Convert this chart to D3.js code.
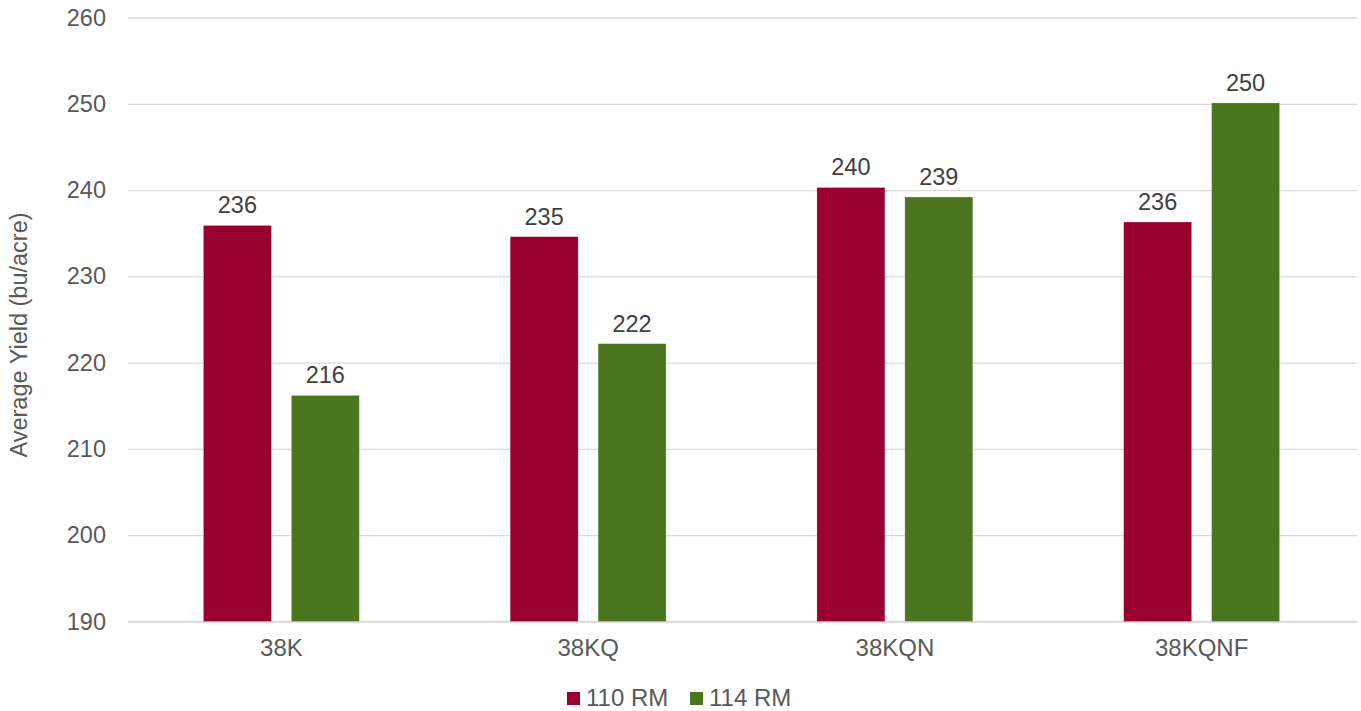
<!DOCTYPE html>
<html>
<head>
<meta charset="utf-8">
<script src="https://cdn.jsdelivr.net/npm/d3@7"></script>
<style>
  body { margin: 0; background: #fff; }
  text { font-family: "Liberation Sans", Arial, Helvetica, sans-serif; }
</style>
</head>
<body>
<div class="chart"></div>
<script>
const categories = ["38K", "38KQ", "38KQN", "38KQNF"];
const seriesNames = ["110 RM", "114 RM"];
const rm110 = [235.9, 234.6, 240.3, 236.3];
const rm114 = [216.2, 222.2, 239.2, 250.1];
const yTicks = [190, 200, 210, 220, 230, 240, 250, 260];
const colors = ["#99002f", "#4c7520"];

const w = 1361;
const h = 711;
const padL = 128, padR = 1355, padT = 17.5, padB = 621.5;

const rows = categories.map((c, i) => ({cat: c, vals: [rm110[i], rm114[i]]}));

const svg = d3.select(".chart")
    .append("svg")
    .attr("width", w)
    .attr("height", h);

const x0 = d3.scaleBand()
    .domain(categories)
    .range([padL, padR]);

const x1 = d3.scaleBand()
    .domain(seriesNames)
    .range([0, x0.bandwidth()])
    .paddingInner(0.227)
    .paddingOuter(0.858);

const y = d3.scaleLinear()
    .domain([190, 260])
    .range([padB, padT]);

// gridlines + y labels
const yAxis = d3.axisLeft(y)
    .tickValues(yTicks)
    .tickSize(-(1357 - padL))
    .tickPadding(22);

const yAxisG = svg.append("g")
    .attr("transform", `translate(${padL}, 0)`)
    .call(yAxis);
yAxisG.select(".domain").remove();
yAxisG.selectAll(".tick line")
    .attr("stroke", "#d9d9d9")
    .attr("stroke-width", 1.3);
yAxisG.selectAll(".tick text")
    .attr("fill", "#595959")
    .style("font-size", "23.5px")
    .style("font-family", "'Liberation Sans', Arial, sans-serif");

// x labels
const xAxis = d3.axisBottom(x0).tickSize(0).tickPadding(17);
const xAxisG = svg.append("g")
    .attr("transform", `translate(0, ${padB})`)
    .call(xAxis);
xAxisG.select(".domain")
    .attr("d", `M${padL},0H1357`)
    .attr("stroke", "#d9d9d9")
    .attr("stroke-width", 1.3);
xAxisG.selectAll(".tick text")
    .attr("fill", "#595959")
    .style("font-size", "24px")
    .style("font-family", "'Liberation Sans', Arial, sans-serif");

// bars
const groups = svg.selectAll(".grp")
    .data(rows)
    .enter()
    .append("g")
    .attr("class", "grp")
    .attr("transform", d => `translate(${x0(d.cat)}, 0)`);

groups.selectAll("rect")
    .data(d => d.vals.map((v, i) => ({name: seriesNames[i], v: v, i: i})))
    .enter()
    .append("rect")
    .attr("x", d => x1(d.name))
    .attr("y", d => y(d.v))
    .attr("width", x1.bandwidth())
    .attr("height", d => y(190) - y(d.v))
    .attr("fill", d => colors[d.i])
    .attr("stroke", "#fff")
    .attr("stroke-opacity", 0.4)
    .attr("stroke-width", 0.6);

groups.selectAll(".lbl")
    .data(d => d.vals.map((v, i) => ({name: seriesNames[i], v: v, i: i})))
    .enter()
    .append("text")
    .attr("class", "lbl")
    .attr("x", d => x1(d.name) + x1.bandwidth() / 2)
    .attr("y", d => y(d.v) - 12)
    .attr("text-anchor", "middle")
    .attr("fill", "#404040")
    .style("font-size", "23.5px")
    .text(d => Math.round(d.v));

// axis title
svg.append("text")
    .attr("transform", `translate(27, 335) rotate(-90)`)
    .attr("text-anchor", "middle")
    .attr("fill", "#595959")
    .style("font-size", "23.5px")
    .text("Average Yield (bu/acre)");

// legend
const legendX = [567, 690];
const legend = svg.selectAll(".leg")
    .data(seriesNames)
    .enter()
    .append("g")
    .attr("class", "leg")
    .attr("transform", (d, i) => `translate(${legendX[i]}, 692)`);
legend.append("rect")
    .attr("width", 13)
    .attr("height", 13)
    .attr("fill", (d, i) => colors[i]);
legend.append("text")
    .attr("x", 19)
    .attr("y", 13.5)
    .attr("fill", "#595959")
    .style("font-size", "24px")
    .text(d => d);
</script>
</body>
</html>
